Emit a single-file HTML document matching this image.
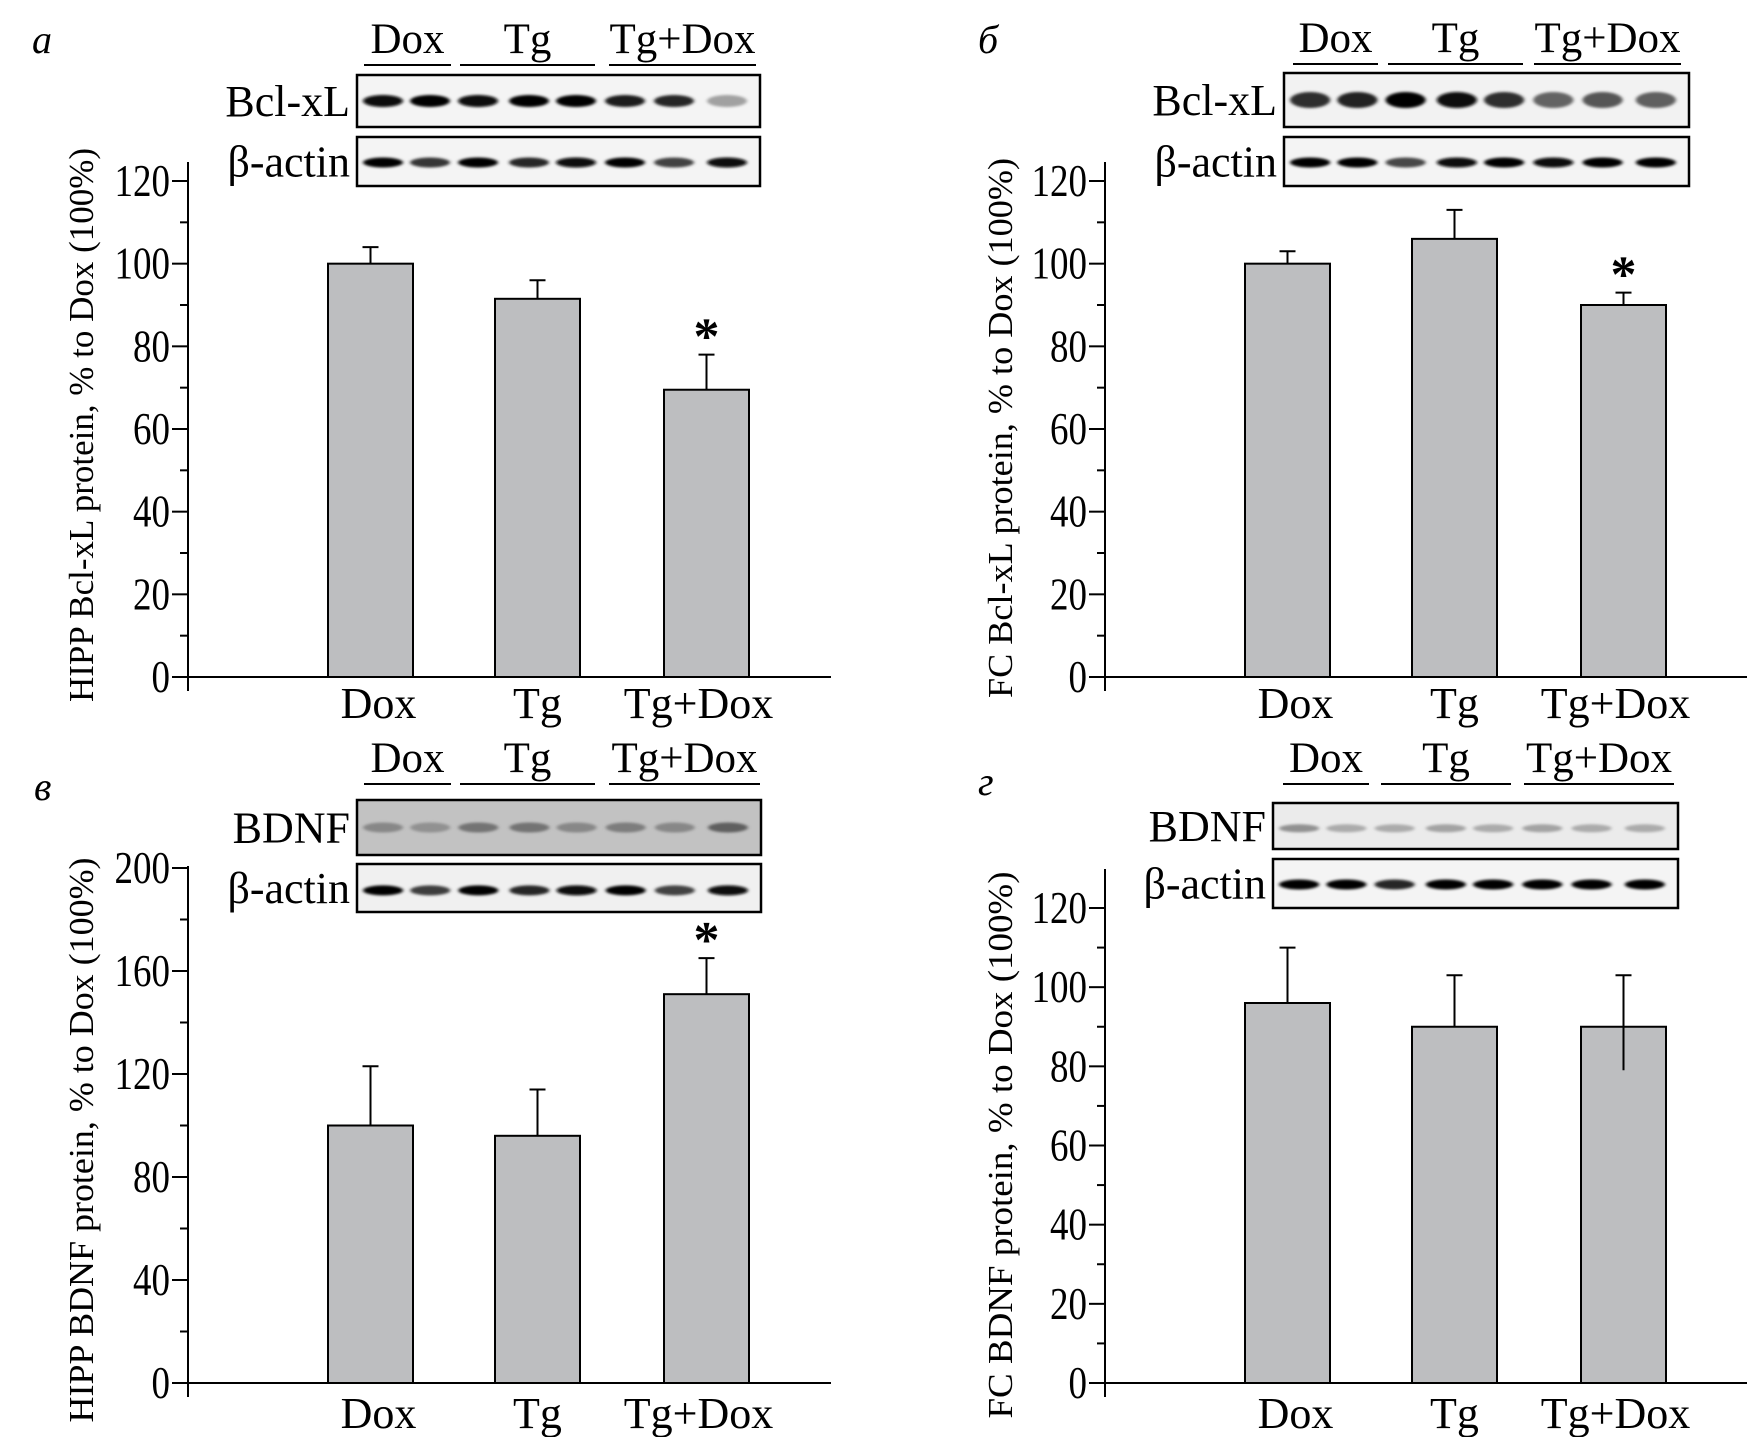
<!DOCTYPE html>
<html><head><meta charset="utf-8"><style>
html,body{margin:0;padding:0;background:#fff}
svg{display:block}
text{font-family:"Liberation Serif",serif;fill:#000}
</style></head><body>
<svg id="fig" width="1758" height="1437" viewBox="0 0 1758 1437" xmlns="http://www.w3.org/2000/svg">
<defs>
<filter id="blur" x="-20%" y="-100%" width="140%" height="300%"><feGaussianBlur stdDeviation="1.8 1.3"/></filter>
</defs>
</svg>
<script>
// ---- data ----
const categories = ["Dox", "Tg", "Tg+Dox"];
const aValues = [100, 91.5, 69.5];
const aErrTop = [104, 96, 78];
const bValues = [100, 106, 90];
const bErrTop = [103, 113, 93];
const vValues = [100, 96, 151];
const vErrTop = [123, 114, 165];
const gValues = [96, 90, 90];
const gErrTop = [110, 103, 103];
const gErrBottom = [null, null, 79];
const ticksBcl = [0, 20, 40, 60, 80, 100, 120];
const ticksV = [0, 40, 80, 120, 160, 200];
const starsA = [false, false, true];
const starsB = [false, false, true];
const starsV = [false, false, true];
const starsG = [false, false, false];
const bandAbcl = [0.92, 1, 0.92, 1, 0.95, 0.85, 0.8, 0.35];
const bandAact = [1, 0.75, 1, 0.8, 0.92, 0.95, 0.7, 0.92];
const bandBbcl = [0.8, 0.85, 1, 0.92, 0.8, 0.6, 0.65, 0.62];
const bandBact = [0.95, 0.95, 0.7, 0.92, 1, 0.92, 0.95, 0.95];
const bandVbdnf = [0.6, 0.55, 0.7, 0.7, 0.6, 0.65, 0.6, 0.8];
const bandVact = [1, 0.72, 1, 0.8, 0.92, 0.95, 0.7, 0.92];
const bandGbdnf = [0.5, 0.38, 0.38, 0.42, 0.38, 0.42, 0.38, 0.38];
const bandGact = [0.95, 0.95, 0.82, 1, 1, 0.95, 1, 0.95];

const NS = "http://www.w3.org/2000/svg";
const svg = document.getElementById('fig');
function mk(tag, attrs, parent) {
  const e = document.createElementNS(NS, tag);
  for (const k in attrs) e.setAttribute(k, attrs[k]);
  (parent || svg).appendChild(e);
  return e;
}
function txt(parent, x, y, s, size, anchor, extra) {
  const e = mk('text', {x: x, y: y, 'font-size': size, 'text-anchor': anchor || 'start'}, parent);
  if (extra) for (const k in extra) e.setAttribute(k, extra[k]);
  e.textContent = s;
  return e;
}

function panel(cfg) {
  const g = mk('g', {});
  
  
  const ax = cfg.axisX, y0 = cfg.zeroY, ppu = cfg.ppu;
  const yS = v => y0 - v * ppu;
  const xC = i => cfg.barLeft[i] + cfg.barW / 2;
  const pl = txt(g, cfg.letterX, cfg.letterY, cfg.letter, 40, 'start', {'font-style': 'italic'});
  
  
  for (let i = 0; i < categories.length; i++) {
    const v = cfg.values[i];
    const r = mk('rect', {x: cfg.barLeft[i], y: yS(v), width: cfg.barW, height: v * ppu, fill: '#bdbec0', stroke: '#000', 'stroke-width': 2}, g);
    
    
    const lowV = (cfg.errBottom && cfg.errBottom[i] != null) ? cfg.errBottom[i] : v;
    const eb = mk('path', {d: `M${xC(i)},${yS(lowV)}V${yS(cfg.errTop[i])}M${xC(i) - 8},${yS(cfg.errTop[i])}H${xC(i) + 8}`, stroke: '#000', 'stroke-width': 2, fill: 'none'}, g);
    
    
    if (cfg.stars[i]) {
      const st = txt(g, xC(i), yS(cfg.errTop[i]) - 1, '*', 52, 'middle', {'font-weight': 'bold'});
      
      
    }
    const xl = txt(g, xC(i) + (i === 0 ? 8 : (i === 2 ? -8 : 0)), cfg.xLabelY, categories[i], 44, 'middle');
    
    
  }
  const yAx = mk('line', {x1: ax, y1: cfg.axisTop, x2: ax, y2: y0 + 14, stroke: '#000', 'stroke-width': 2}, g);
  
  
  const xAx = mk('line', {x1: ax - 16, y1: y0, x2: cfg.axisRight, y2: y0, stroke: '#000', 'stroke-width': 2}, g);
  
  
  const ticks = cfg.ticks;
  const step = ticks[1] - ticks[0];
  for (let k = 0; k < ticks.length; k++) {
    const ty = yS(ticks[k]);
    mk('line', {x1: ax - 16, y1: ty, x2: ax, y2: ty, stroke: '#000', 'stroke-width': 2}, g);
    const tl = txt(g, ax - 18, ty + 15, String(ticks[k]), 46, 'end', {textLength: String(ticks[k]).length * 18.5, lengthAdjust: 'spacingAndGlyphs'});
    
    
    if (k < ticks.length - 1) {
      const my = yS(ticks[k] + step / 2);
      mk('line', {x1: ax - 8, y1: my, x2: ax, y2: my, stroke: '#000', 'stroke-width': 2}, g);
    }
  }
  const yt = txt(g, 0, 0, cfg.yTitle, 35, 'middle', {transform: `translate(${cfg.yTitleX},${cfg.yTitleY}) rotate(-90)`, textLength: cfg.yTitleLen, lengthAdjust: 'spacingAndGlyphs'});
  
  
  for (let i = 0; i < 3; i++) {
    const s = cfg.hdr[i];
    mk('line', {x1: s[0], y1: cfg.ulY, x2: s[1], y2: cfg.ulY, stroke: '#000', 'stroke-width': 2}, g);
    const h = txt(g, (s[0] + s[1]) / 2, cfg.ulY - 12, categories[i], 43, 'middle');
    
    
  }
  cfg.blots.forEach(b => {
    const bg = mk('g', {}, g);
    
    
    mk('rect', {x: cfg.boxX, y: b.y, width: cfg.boxW, height: b.h, fill: b.bg, stroke: '#000', 'stroke-width': 2.5}, bg);
    const lanes = [26, 73, 121, 172, 219, 268, 317, 370];
    const sc = cfg.boxW / 403;
    b.bands.forEach((it, j) => {
      const c = Math.max(0, Math.round(255 - it * b.dark));
      mk('ellipse', {cx: cfg.boxX + lanes[j] * sc, cy: b.y + b.h * b.cy, rx: 20 * sc, ry: b.ry, fill: `rgb(${c},${c},${c})`, filter: 'url(#blur)'}, bg);
    });
    txt(bg, cfg.boxX - 7, b.y + b.h / 2 + 15, b.label, 44, 'end');
  });
}

const leftBars = [328, 495, 664], rightBars = [1245, 1412, 1581];
panel({name: 'panel-a-hipp-bclxl', letter: 'а', letterX: 32, letterY: 53, axisX: 188, zeroY: 677, ppu: 496 / 120, axisTop: 162, axisRight: 831,
  barLeft: leftBars, barW: 85, values: aValues, errTop: aErrTop, stars: starsA, ticks: ticksBcl, xLabelY: 718,
  yTitle: 'HIPP Bcl-xL protein, % to Dox (100%)', yTitleX: 93, yTitleY: 425, yTitleLen: 554,
  hdr: [[364, 451], [460, 595], [609, 756]], ulY: 65, boxX: 357, boxW: 403,
  blots: [{label: 'Bcl-xL', y: 75, h: 52, bg: '#f4f4f4', bands: bandAbcl, dark: 270, cy: 0.5, ry: 6},
          {label: 'β-actin', y: 137, h: 49, bg: '#f4f4f4', bands: bandAact, dark: 270, cy: 0.52, ry: 5}]});
panel({name: 'panel-b-fc-bclxl', letter: 'б', letterX: 978, letterY: 53, axisX: 1105, zeroY: 677, ppu: 496 / 120, axisTop: 162, axisRight: 1747,
  barLeft: rightBars, barW: 85, values: bValues, errTop: bErrTop, stars: starsB, ticks: ticksBcl, xLabelY: 718,
  yTitle: 'FC Bcl-xL protein, % to Dox (100%)', yTitleX: 1012, yTitleY: 428, yTitleLen: 540,
  hdr: [[1293, 1378], [1388, 1523], [1534, 1681]], ulY: 64, boxX: 1284, boxW: 405,
  blots: [{label: 'Bcl-xL', y: 73, h: 54, bg: '#f2f2f2', bands: bandBbcl, dark: 260, cy: 0.5, ry: 8},
          {label: 'β-actin', y: 137, h: 49, bg: '#f4f4f4', bands: bandBact, dark: 265, cy: 0.52, ry: 5}]});
panel({name: 'panel-v-hipp-bdnf', letter: 'в', letterX: 34, letterY: 800, axisX: 188, zeroY: 1383, ppu: 515 / 200, axisTop: 866, axisRight: 831,
  barLeft: leftBars, barW: 85, values: vValues, errTop: vErrTop, stars: starsV, ticks: ticksV, xLabelY: 1428,
  yTitle: 'HIPP BDNF protein, % to Dox (100%)', yTitleX: 93, yTitleY: 1140, yTitleLen: 565,
  hdr: [[364, 451], [460, 595], [609, 760]], ulY: 784, boxX: 357, boxW: 404,
  blots: [{label: 'BDNF', y: 800, h: 55, bg: '#c2c2c2', bands: bandVbdnf, dark: 200, cy: 0.5, ry: 5},
          {label: 'β-actin', y: 864, h: 48, bg: '#f0f0f0', bands: bandVact, dark: 270, cy: 0.55, ry: 5}]});
panel({name: 'panel-g-fc-bdnf', letter: 'г', letterX: 978, letterY: 795, axisX: 1105, zeroY: 1383, ppu: 475 / 120, axisTop: 869, axisRight: 1747,
  barLeft: rightBars, barW: 85, values: gValues, errTop: gErrTop, errBottom: gErrBottom, stars: starsG, ticks: ticksBcl, xLabelY: 1428,
  yTitle: 'FC BDNF protein, % to Dox (100%)', yTitleX: 1012, yTitleY: 1145, yTitleLen: 547,
  hdr: [[1283, 1369], [1381, 1511], [1524, 1674]], ulY: 784, boxX: 1273, boxW: 405,
  blots: [{label: 'BDNF', y: 803, h: 46, bg: '#ebebeb', bands: bandGbdnf, dark: 220, cy: 0.55, ry: 4},
          {label: 'β-actin', y: 859, h: 49, bg: '#f4f4f4', bands: bandGact, dark: 265, cy: 0.52, ry: 5}]});
</script>
</body></html>
